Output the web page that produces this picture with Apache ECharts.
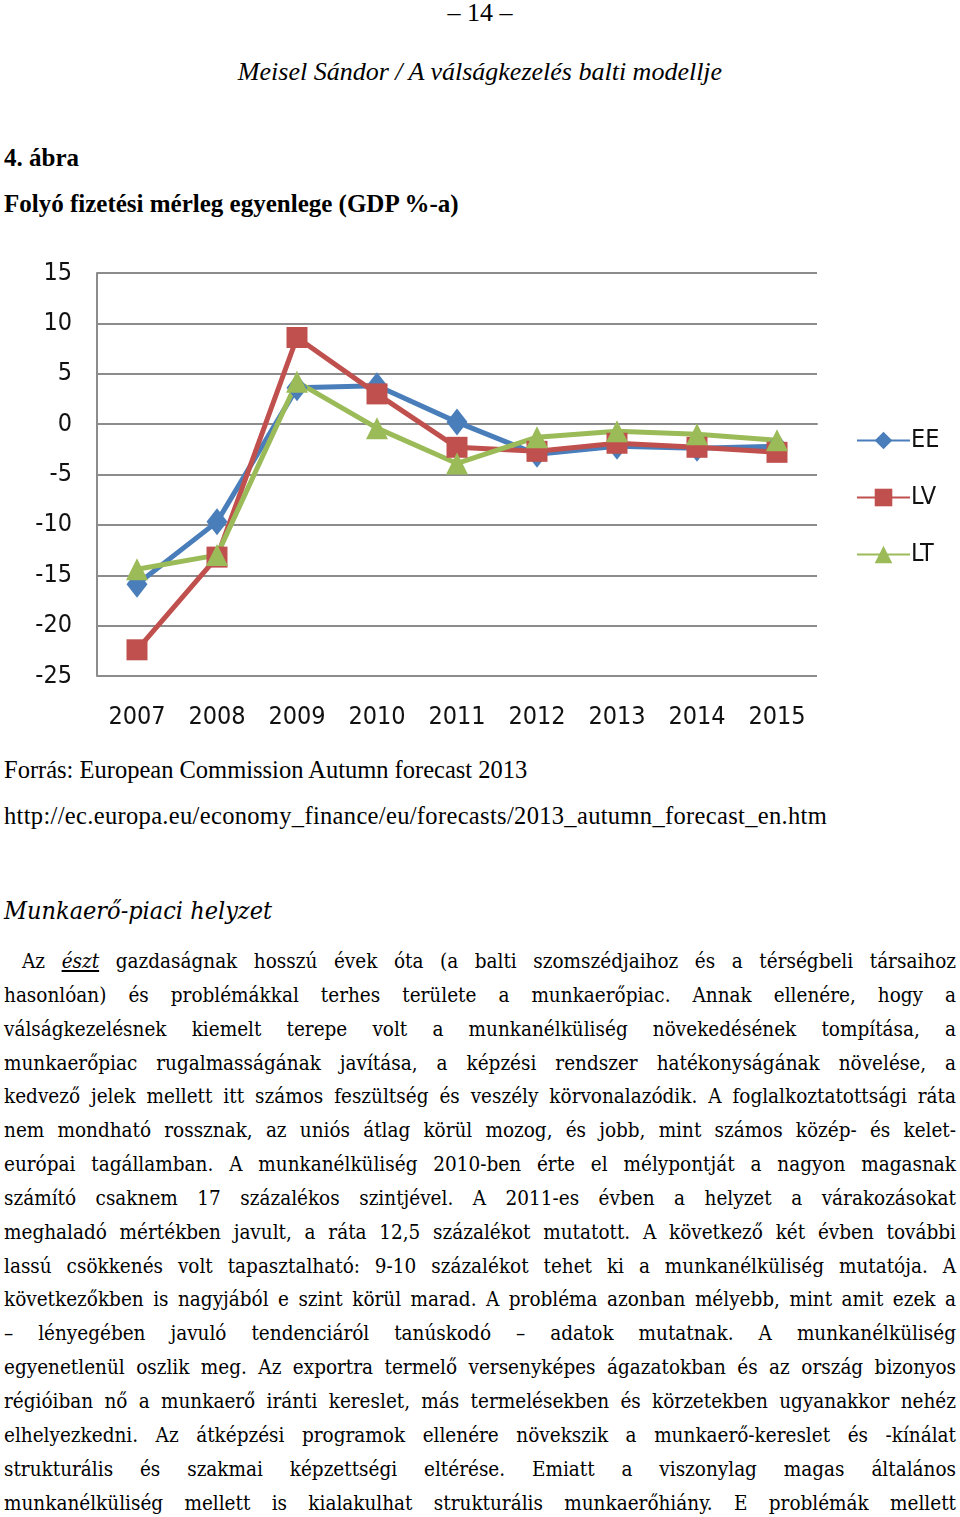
<!DOCTYPE html>
<html lang="hu">
<head>
<meta charset="utf-8">
<script src="https://cdn.jsdelivr.net/npm/echarts@6/dist/echarts.min.js"></script>
<style>
  body { margin:0; width:960px; height:1517px; background:#fff; position:relative; overflow:hidden; color:#000; }
  .t { position:absolute; white-space:nowrap; font-family:"Liberation Serif", serif; }
  .body { position:absolute; left:4px; width:952px; top:945px; font-family:"DejaVu Serif", serif; font-stretch:condensed; font-size:20.5px; }
  .body div { height:33.85px; line-height:33.85px; text-align:justify; text-align-last:justify; white-space:nowrap; }
</style>
</head>
<body>
  <div class="t" style="left:0;width:960px;text-align:center;top:-1px;font-size:26px;line-height:28px;">&ndash; 14 &ndash;</div>
  <div class="t" style="left:0;width:960px;text-align:center;top:57px;font-size:26px;line-height:30px;font-style:italic;">Meisel Sándor / A válságkezelés balti modellje</div>
  <div class="t" style="left:4px;top:143px;font-size:25px;line-height:30px;font-weight:bold;">4. ábra</div>
  <div class="t" style="left:4px;top:189px;font-size:25px;line-height:30px;font-weight:bold;">Folyó fizetési mérleg egyenlege (GDP %-a)</div>

  <div id="main" style="position:absolute;left:0;top:240px;width:960px;height:500px;"></div>

  <div class="t" style="left:4px;top:755px;font-size:24.5px;line-height:30px;">Forrás: European Commission Autumn forecast 2013</div>
  <div class="t" style="left:4px;top:801px;font-size:24.5px;line-height:30px;letter-spacing:0.33px;">http://ec.europa.eu/economy_finance/eu/forecasts/2013_autumn_forecast_en.htm</div>

  <div class="t" style="left:4px;top:895px;font-size:25px;line-height:32px;font-style:italic;font-family:'DejaVu Serif',serif;font-stretch:condensed;">Munkaerő-piaci helyzet</div>

  <div class="body">
    <div style="padding-left:18px;">Az <i><u>észt</u></i> gazdaságnak hosszú évek óta (a balti szomszédjaihoz és a térségbeli társaihoz</div>
    <div>hasonlóan) és problémákkal terhes területe a munkaerőpiac. Annak ellenére, hogy a</div>
    <div>válságkezelésnek kiemelt terepe volt a munkanélküliség növekedésének tompítása, a</div>
    <div>munkaerőpiac rugalmasságának javítása, a képzési rendszer hatékonyságának növelése, a</div>
    <div>kedvező jelek mellett itt számos feszültség és veszély körvonalazódik. A foglalkoztatottsági ráta</div>
    <div>nem mondható rossznak, az uniós átlag körül mozog, és jobb, mint számos közép- és kelet-</div>
    <div>európai tagállamban. A munkanélküliség 2010-ben érte el mélypontját a nagyon magasnak</div>
    <div>számító csaknem 17 százalékos szintjével. A 2011-es évben a helyzet a várakozásokat</div>
    <div>meghaladó mértékben javult, a ráta 12,5 százalékot mutatott. A következő két évben további</div>
    <div>lassú csökkenés volt tapasztalható: 9-10 százalékot tehet ki a munkanélküliség mutatója. A</div>
    <div>következőkben is nagyjából e szint körül marad. A probléma azonban mélyebb, mint amit ezek a</div>
    <div>– lényegében javuló tendenciáról tanúskodó – adatok mutatnak. A munkanélküliség</div>
    <div>egyenetlenül oszlik meg. Az exportra termelő versenyképes ágazatokban és az ország bizonyos</div>
    <div>régióiban nő a munkaerő iránti kereslet, más termelésekben és körzetekben ugyanakkor nehéz</div>
    <div>elhelyezkedni. Az átképzési programok ellenére növekszik a munkaerő-kereslet és -kínálat</div>
    <div>strukturális és szakmai képzettségi eltérése. Emiatt a viszonylag magas általános</div>
    <div>munkanélküliség mellett is kialakulhat strukturális munkaerőhiány. E problémák mellett</div>
  </div>

<script type="text/javascript">
var years = ['2007', '2008', '2009', '2010', '2011', '2012', '2013', '2014', '2015'];
var eeValues = [-15.9, -9.7, 3.6, 3.8, 0.2, -3.0, -2.2, -2.4, -2.2];
var lvValues = [-22.4, -13.2, 8.6, 3.0, -2.3, -2.7, -1.9, -2.3, -2.8];
var ltValues = [-14.4, -13.0, 4.2, -0.4, -3.9, -1.3, -0.7, -1.0, -1.6];
var yTicks = [-25, -20, -15, -10, -5, 0, 5, 10, 15];

var narrowFont = '"Liberation Sans Narrow", "DejaVu Sans Condensed", sans-serif';
var gridColor = '#8c8c8c';

var chart = echarts.init(document.getElementById('main'));

function lineSeries(name, data, color, symbol, size) {
  return {
    name: name,
    type: 'line',
    data: data,
    symbol: symbol,
    symbolSize: size,
    lineStyle: { color: color, width: 5 },
    itemStyle: { color: color },
    animation: false
  };
}

chart.setOption({
  animation: false,
  grid: { left: 97, right: 143, top: 33, bottom: 64 },
  legend: {
    orient: 'vertical',
    left: 851,
    top: 183,
    itemWidth: 53,
    itemHeight: 22,
    itemGap: 32,
    textStyle: { fontFamily: narrowFont, fontSize: 25, color: '#111', lineHeight: 25, padding: [0, 0, 0, -4] },
    data: ['EE', 'LV', 'LT']
  },
  xAxis: {
    type: 'category',
    data: years,
    boundaryGap: true,
    axisLine: { lineStyle: { color: gridColor, width: 2 } },
    axisTick: { show: false },
    axisLabel: { fontFamily: narrowFont, fontSize: 25, color: '#111', margin: 29 }
  },
  yAxis: {
    type: 'value',
    min: yTicks[0],
    max: yTicks[yTicks.length - 1],
    interval: 5,
    axisLine: { show: true, lineStyle: { color: gridColor, width: 2 } },
    axisTick: { show: false },
    axisLabel: { fontFamily: narrowFont, fontSize: 25, color: '#111', margin: 25 },
    splitLine: { lineStyle: { color: gridColor, width: 2 } }
  },
  series: [
    lineSeries('EE', eeValues, '#4a7ebb', 'diamond', [21, 27]),
    lineSeries('LV', lvValues, '#c0504d', 'rect', [21, 21]),
    lineSeries('LT', ltValues, '#9bbb59', 'triangle', [22, 22])
  ]
});
</script>
</body>
</html>
